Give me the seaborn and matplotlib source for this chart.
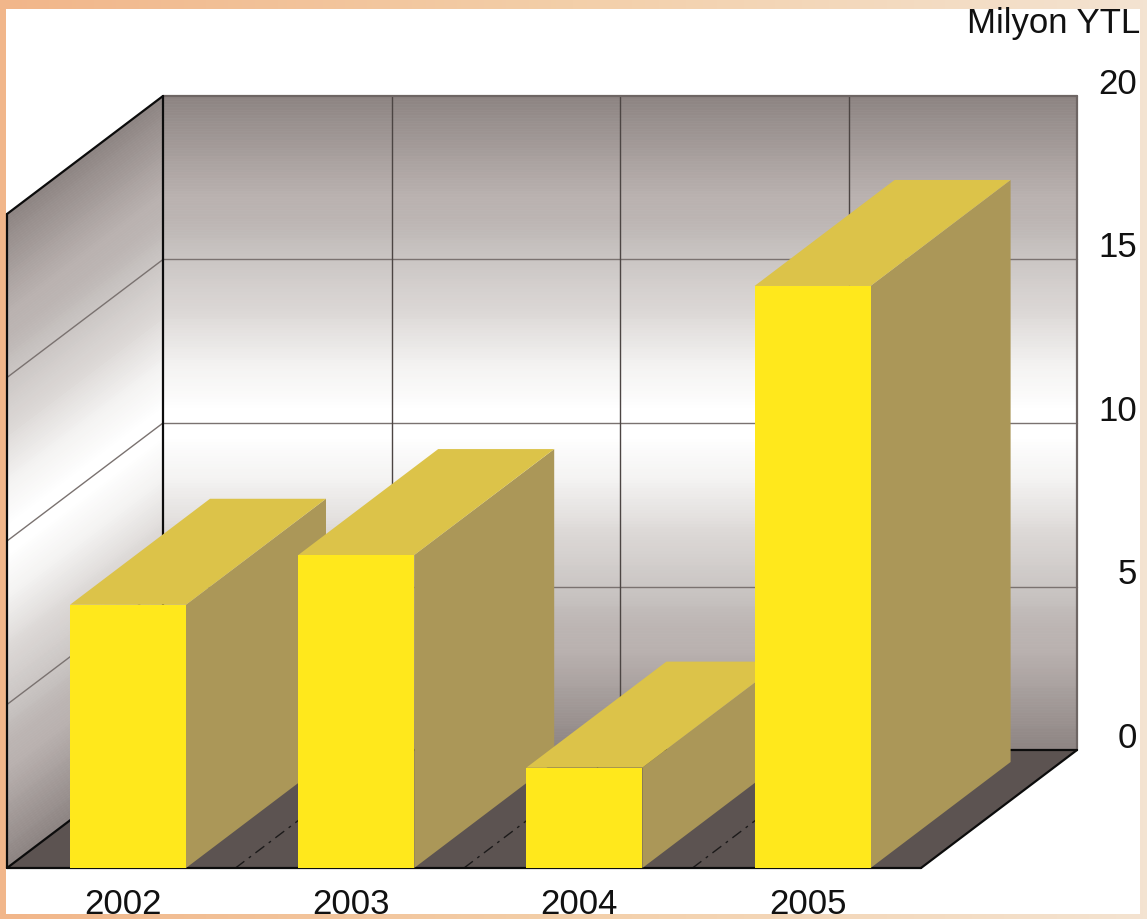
import numpy as np
import pandas as pd
import matplotlib
matplotlib.use("Agg")
import matplotlib.pyplot as plt
import seaborn as sns
from matplotlib.collections import PolyCollection
from matplotlib.colors import LinearSegmentedColormap
from matplotlib.patches import Rectangle
from matplotlib.transforms import ScaledTranslation

years = ["2002", "2003", "2004", "2005"]
values = [8.05, 9.57, 3.07, 17.8]
scale_ticks = [0, 5, 10, 15, 20]
unit_label = "Milyon YTL"

W, H, DPI = 1147, 919, 100
PX_X, PX_Y = 228.2, 32.7      # pixels per category / per value unit
X0_PX, BASE_PX = 128, 868     # pixel of category 0 and of value 0
to_x = lambda px: (px - X0_PX) / PX_X

sns.set_theme(style="white")
plt.rcParams["font.family"] = ["Liberation Sans", "DejaVu Sans"]

FRONT, TOP, SIDE = "#ffe81c", "#dcc349", "#ab9758"
FLOOR = "#5c5351"
wall_cmap = LinearSegmentedColormap.from_list("wall", [
    (0.00, "#8d8482"), (0.15, "#b9b1af"), (0.19, "#bcb5b3"), (0.25, "#cbc6c4"),
    (0.33, "#dcd8d6"), (0.41, "#f3f2f1"), (0.48, "#ffffff"), (0.52, "#ffffff"),
    (0.59, "#f3f2f1"), (0.67, "#dcd8d6"), (0.75, "#cbc6c4"), (0.81, "#bcb5b3"),
    (0.85, "#b9b1af"), (1.00, "#8d8482")])

fig = plt.figure(figsize=(W / DPI, H / DPI), dpi=DPI)

# mottled frame: warm on the left, pale on the right, white panel on top
bg = fig.add_axes([0, 0, 1, 1], zorder=-5)
bg.axis("off")
frame_cmap = LinearSegmentedColormap.from_list("frame", ["#f1b68a", "#f3cfa9", "#f3e3d1"])
bg.imshow(np.linspace(0, 1, 256)[None, :], cmap=frame_cmap, aspect="auto", extent=(0, 1, 0, 1))
bg.add_patch(Rectangle((6 / W, 1 - 914 / H), (1140 - 6) / W, (914 - 9) / H,
                       facecolor="white", edgecolor="none"))
bg.set_xlim(0, 1)
bg.set_ylim(0, 1)

ax = fig.add_axes([0, 1 - BASE_PX / H, 1, BASE_PX / H])
ax.patch.set_alpha(0)

df = pd.DataFrame({"pos": np.arange(len(years)), "value": values})
sns.barplot(data=df, x="pos", y="value", width=116 / PX_X,
            color=FRONT, saturation=1, ax=ax, linewidth=0, errorbar=None)
front_bars = list(ax.patches)

# depth of the box (walls) and of the bars, in data units
wall_dx, wall_dy = 156 / PX_X, 118 / PX_Y
bar_dx, bar_dy = 140 / PX_X, 106 / PX_Y
wx0, wx1 = to_x(7), to_x(921)
top_val = max(scale_ticks)


def shaded_wall(xa, xb, ya, yb, n=240):
    """Horizontal strips from the top to the bottom of a wall, sheared by ya/yb."""
    edges = np.linspace(0, 1, n + 1)
    polys = []
    for t0, t1 in zip(edges[:-1], edges[1:]):
        polys.append([(xa, ya + top_val * (1 - t0)), (xb, yb + top_val * (1 - t0)),
                      (xb, yb + top_val * (1 - t1)), (xa, ya + top_val * (1 - t1))])
    cols = wall_cmap((edges[:-1] + edges[1:]) / 2)
    ax.add_collection(PolyCollection(polys, facecolors=cols, edgecolors=cols, linewidths=0.5, zorder=1),
                      autolim=False)


shaded_wall(wx0 + wall_dx, wx1 + wall_dx, wall_dy, wall_dy)
shaded_wall(wx0, wx0 + wall_dx, 0, wall_dy)

# floor
ax.fill([wx0, wx1, wx1 + wall_dx, wx0 + wall_dx], [0, 0, wall_dy, wall_dy],
        color=FLOOR, lw=0, zorder=1.5)

# grid on the walls and the floor
GRID = "#7a7270"
for v in scale_ticks[1:-1]:
    ax.plot([wx0 + wall_dx, wx1 + wall_dx], [v + wall_dy] * 2, color=GRID, lw=1, zorder=2)
    ax.plot([wx0, wx0 + wall_dx], [v, v + wall_dy], color=GRID, lw=1, zorder=2)
for i in range(1, 4):
    x = wx0 + i * (wx1 - wx0) / 4
    ax.plot([x + wall_dx] * 2, [wall_dy, top_val + wall_dy], color="#4c4543", lw=1, zorder=2)
    ax.plot([x, x + wall_dx], [0, wall_dy], color="#1c1a1a", lw=1, ls=(0, (8, 4, 2, 4)), zorder=2)

# box outlines
ax.plot([wx0 + wall_dx, wx1 + wall_dx], [top_val + wall_dy] * 2, color="#6e6664", lw=1.6, zorder=2)
ax.plot([wx1 + wall_dx] * 2, [wall_dy, top_val + wall_dy], color="#6e6664", lw=1.6, zorder=2)
for xx, yy in [([wx0, wx0 + wall_dx], [top_val, top_val + wall_dy]),
               ([wx0, wx0], [0, top_val]),
               ([wx0 + wall_dx] * 2, [wall_dy, top_val + wall_dy]),
               ([wx0, wx0 + wall_dx], [0, wall_dy]),
               ([wx1, wx1 + wall_dx], [0, wall_dy]),
               ([wx0 + wall_dx, wx1 + wall_dx], [wall_dy, wall_dy]),
               ([wx0, wx1], [0, 0])]:
    ax.plot(xx, yy, color="#0c0c0c", lw=1.6, zorder=2.5, clip_on=False)

# bars: front from seaborn, top and side faces from the same values
for i, bar in enumerate(front_bars):
    x0, x1 = bar.get_x(), bar.get_x() + bar.get_width()
    v = bar.get_height()
    z = 5 + i
    bar.set_zorder(z + 0.2)
    ax.fill([x1, x1 + bar_dx, x1 + bar_dx, x1], [0, bar_dy, v + bar_dy, v],
            color=SIDE, lw=0, zorder=z)
    ax.fill([x0, x1, x1 + bar_dx, x0 + bar_dx], [v, v, v + bar_dy, v + bar_dy],
            color=TOP, lw=0, zorder=z)

ax.set_xlim(to_x(0), to_x(W))
ax.set_ylim(0, BASE_PX / PX_Y)
for s in ax.spines.values():
    s.set_visible(False)
ax.set_xlabel("")
ax.set_ylabel("")
ax.set_xticks(np.arange(len(years)), years)
ax.yaxis.tick_right()
ax.set_yticks([v + wall_dy for v in scale_ticks], [str(v) for v in scale_ticks])
ax.tick_params(axis="y", length=0, pad=-8, labelsize=25, labelcolor="#111111")
ax.tick_params(axis="x", length=0, pad=14.5, labelsize=25, labelcolor="#111111")
up = ScaledTranslation(1 / DPI, 15 / DPI, fig.dpi_scale_trans)
for lab in ax.get_yticklabels():
    lab.set_ha("right")
    lab.set_transform(lab.get_transform() + up)
left = ScaledTranslation(-5 / DPI, 0, fig.dpi_scale_trans)
for lab in ax.get_xticklabels():
    lab.set_transform(lab.get_transform() + left)

fig.text(1140 / W, 1 - 24 / H, unit_label, ha="right", va="center", fontsize=25, color="#111111")

fig.savefig("out.png", dpi=DPI)
